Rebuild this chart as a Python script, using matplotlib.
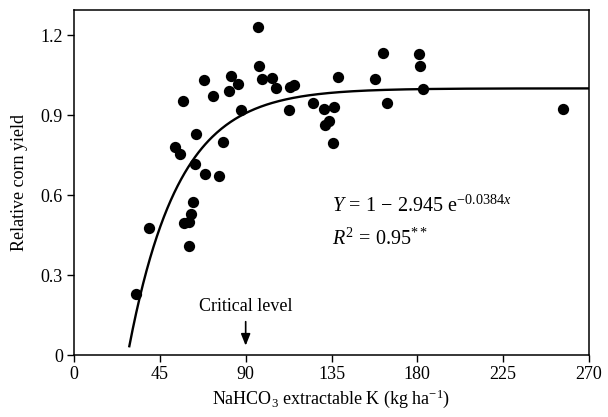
import numpy as np
import matplotlib
matplotlib.use("Agg")
import matplotlib.pyplot as plt

plt.rcParams["font.family"] = ["Liberation Serif", "DejaVu Serif"]
plt.rcParams["mathtext.fontset"] = "custom"
plt.rcParams["mathtext.rm"] = "Liberation Serif"
plt.rcParams["mathtext.it"] = "Liberation Serif:italic"
plt.rcParams["mathtext.bf"] = "Liberation Serif:bold"

# Soil test K (kg/ha) and relative corn yield
soil_k = [32.5, 39.2, 52.9, 55.6, 57.3, 57.6, 60.2, 60.1, 61.3, 62.3,
          63.6, 64.0, 68.2, 68.5, 73.1, 76.0, 77.9, 81.1, 82.5, 85.9,
          87.4, 96.7, 97.0, 98.6, 103.8, 105.9, 112.6, 113.3, 115.4, 125.5,
          131.0, 136.4, 133.6, 131.5, 136.0, 138.5, 157.7, 162.2, 164.2, 181.1,
          181.5, 183.0, 256.6]
rel_yield = [0.23, 0.475, 0.78, 0.755, 0.952, 0.495, 0.50, 0.41, 0.53, 0.572,
             0.715, 0.83, 1.03, 0.68, 0.97, 0.67, 0.80, 0.99, 1.045, 1.015,
             0.92, 1.23, 1.085, 1.037, 1.038, 1.0, 0.92, 1.005, 1.013, 0.945,
             0.922, 0.93, 0.877, 0.862, 0.795, 1.043, 1.037, 1.133, 0.945, 1.128,
             1.083, 0.998, 0.922]

# Fitted Mitscherlich-type response: Y = a - b * exp(-c x)
fit_a, fit_b, fit_c = 1.0, 2.945, 0.0384
fit_x_start, fit_x_end = 29.0, 270.0
critical_k = 90

x_ticks = [0, 45, 90, 135, 180, 225, 270]
y_ticks = [0, 0.3, 0.6, 0.9, 1.2]
y_tick_labels = ["0", "0.3", "0.6", "0.9", "1.2"]

fig = plt.figure(figsize=(6.08, 4.17), dpi=100)
ax = fig.add_axes([74 / 608, 1 - 355 / 417, (589 - 74) / 608, (355 - 10) / 417])

ax.scatter(soil_k, rel_yield, s=66, color="black", zorder=3, linewidths=0)

xf = np.linspace(fit_x_start, fit_x_end, 400)
yf = fit_a - fit_b * np.exp(-fit_c * xf)
ax.plot(xf, yf, color="black", lw=1.7, zorder=2)

ax.set_xlim(0, 270)
ax.set_ylim(0, 1.294)
ax.set_xticks(x_ticks)
ax.set_yticks(y_ticks)
ax.set_yticklabels(y_tick_labels)
ax.tick_params(direction="out", length=5, width=1.0, labelsize=13,
               top=False, right=False, pad=3)
for sp in ax.spines.values():
    sp.set_linewidth(1.1)

ax.set_xlabel(r"NaHCO$_3$ extractable K (kg ha$^{-1}$)", fontsize=13, labelpad=3)
ax.set_ylabel("Relative corn yield", fontsize=13, labelpad=9)

ax.text(critical_k, 0.165, "Critical level", ha="center", va="baseline", fontsize=13)
ax.annotate("", xy=(critical_k, 0.035), xytext=(critical_k, 0.125),
            arrowprops=dict(arrowstyle="-|>,head_length=0.7,head_width=0.28",
                            color="black", lw=1.2, shrinkA=0, shrinkB=0))

ax.text(135.5, 0.537, r"$Y\,=\,1\,-\,2.945\ \mathrm{e}^{-0.0384x}$",
        ha="left", va="baseline", fontsize=14.5)
ax.text(135.5, 0.412, r"$R^2\,=\,0.95^{**}$", ha="left", va="baseline", fontsize=14.5)

fig.savefig("out.png", dpi=100)
